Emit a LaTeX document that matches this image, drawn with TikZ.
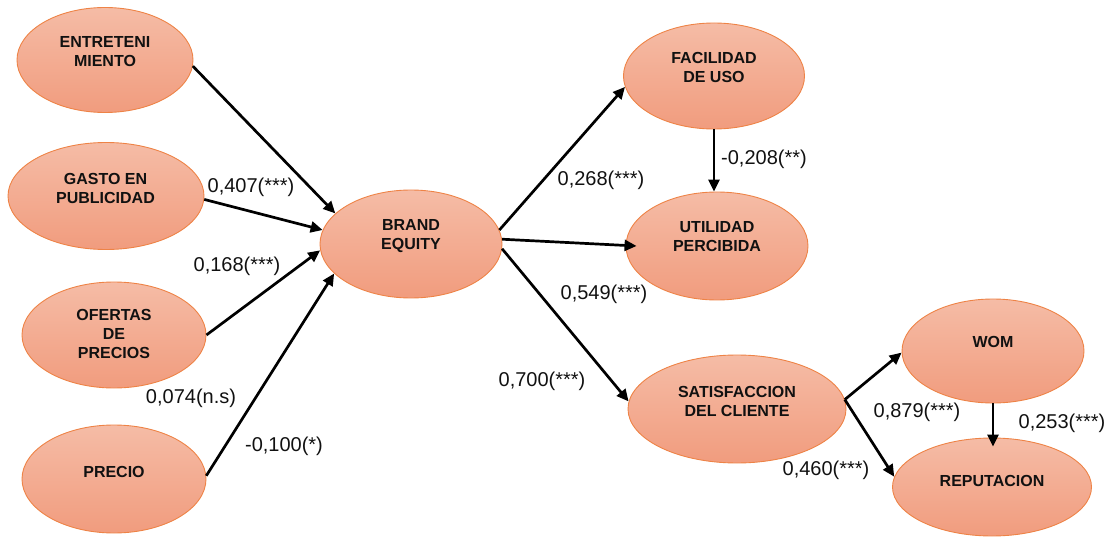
\documentclass[tikz,border=0pt]{standalone}
\usepackage{fontspec}
\setmainfont{Liberation Sans}
\usetikzlibrary{arrows.meta,shapes.geometric}
\definecolor{eltop}{HTML}{F5BCA6}
\definecolor{elbot}{HTML}{F19C7E}
\definecolor{elborder}{HTML}{EE8346}
\definecolor{txt}{HTML}{111111}
\tikzset{
  el/.style={ellipse, draw=elborder, line width=0.9pt, top color=eltop, bottom color=elbot, inner sep=0pt},
  eltext/.style={font=\fontsize{16}{19}\selectfont\bfseries, text=txt, align=center, inner sep=0pt},
  coef/.style={font=\fontsize{20}{22}\selectfont, text=txt, inner sep=0pt},
  arr/.style={line width=2.7pt, draw=black, -{Triangle[length=12pt,width=11pt]}}
}
\begin{document}
\begin{tikzpicture}[x=1pt,y=-1pt]
\useasboundingbox (0,0) rectangle (1111,537);
% ellipses
\node[el, minimum width=176pt, minimum height=105pt] (e1) at (105,60) {};
\node[el, minimum width=196pt, minimum height=107pt] (e2) at (106,196) {};
\node[el, minimum width=184pt, minimum height=106pt] (e3) at (114,335) {};
\node[el, minimum width=184pt, minimum height=108pt] (e4) at (114,479) {};
\node[el, minimum width=182pt, minimum height=108pt] (b) at (411,244) {};
\node[el, minimum width=181pt, minimum height=106pt] (f) at (714,76) {};
\node[el, minimum width=182pt, minimum height=108pt] (u) at (717,246) {};
\node[el, minimum width=218pt, minimum height=108pt] (s) at (737,409) {};
\node[el, minimum width=182pt, minimum height=104pt] (w) at (993,351) {};
\node[el, minimum width=199pt, minimum height=98pt] (r) at (992,487) {};
% texts
\node[eltext] (e1t) at (105,51.5) {ENTRETENI\\MIENTO};
\node[eltext] (e2t) at (105.5,188) {GASTO EN\\PUBLICIDAD};
\node[eltext] (e3t) at (114,333.5) {OFERTAS\\DE\\PRECIOS};
\node[eltext] (e4t) at (114,472) {PRECIO};
\node[eltext] (bt) at (411,236) {BRAND\\EQUITY};
\node[eltext] (ft) at (714,67.5) {FACILIDAD\\DE USO};
\node[eltext] (ut) at (717,237) {UTILIDAD\\PERCIBIDA};
\node[eltext] (st) at (737,401.5) {SATISFACCION\\DEL CLIENTE};
\node[eltext] (wt) at (993,342) {WOM};
\node[eltext] (rt) at (992,481) {REPUTACION};
% arrows
\draw[arr] (e1.-4) -- (b.158);
\draw[arr] (e2.-2) -- (b.171);
\draw[arr] (e3.0) -- (b.184);
\draw[arr] (e4.2) -- (b.201);
\draw[arr] (b.9) -- (f.187);
\draw[arr] (b.3) -- ([xshift=11pt]u.west);
\draw[arr] (b.-3) -- (s.176);
\draw[arr] (f.south) -- (f.south |- u.north);
\draw[arr] (s.5) -- (w.181);
\draw[arr] (s.5) -- (r.174);
\draw[arr] (w.south) -- ([yshift=-9pt]w.south |- r.north);
% coefficients
\node[coef] (c1) at (251,187) {0,407(***)};
\node[coef] (c2) at (237,266) {0,168(***)};
\node[coef] (c3) at (191,398) {0,074(n.s)};
\node[coef] (c4) at (284,446) {-0,100(*)};
\node[coef] (c5) at (601,180) {0,268(***)};
\node[coef] (c6) at (764,159) {-0,208(**)};
\node[coef] (c7) at (604,294) {0,549(***)};
\node[coef] (c8) at (542,381) {0,700(***)};
\node[coef] (c9) at (917,412) {0,879(***)};
\node[coef] (c10) at (1062,423) {0,253(***)};
\node[coef] (c11) at (826,470) {0,460(***)};
\end{tikzpicture}
\end{document}
